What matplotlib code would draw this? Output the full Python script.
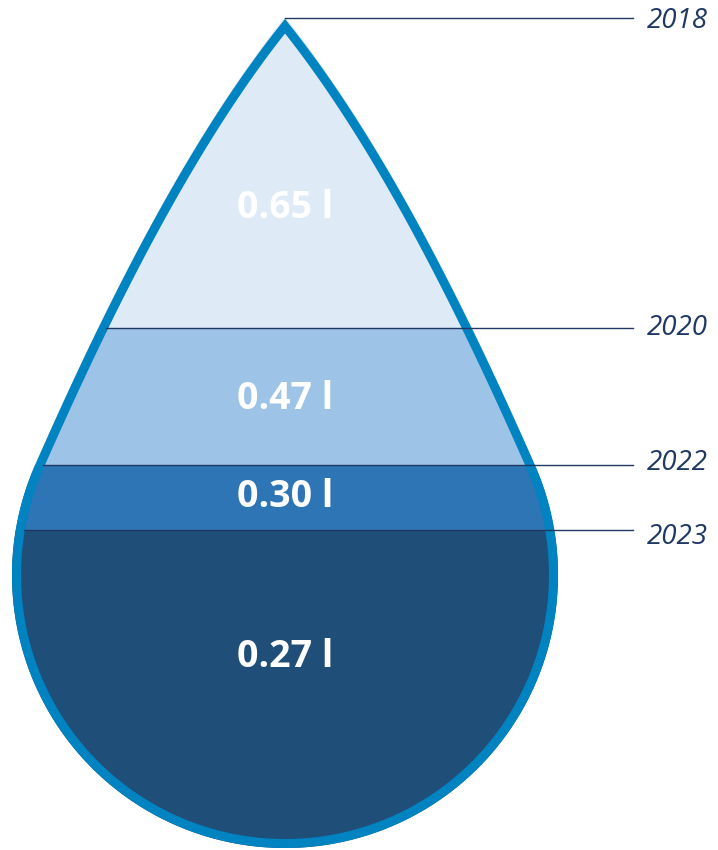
import matplotlib.pyplot as plt
import numpy as np
from matplotlib.path import Path
from matplotlib.patches import PathPatch

# data
years = ["2018", "2020", "2022", "2023"]
litres = [0.65, 0.47, 0.30, 0.27]

# layout (pixel units, y grows downwards)
band_top = [18, 328, 465, 530]
value_y = [208, 399, 497, 657]
year_dy = [3, 0, -2, 7]
band_colors = ["#deebf7", "#9dc3e6", "#2e75b6", "#1f4e79"]
outline_color = "#0083c1"
navy = "#1f3864"

cx, cy, r = 285, 575, 273
tip_y = 17


def drop_outline(n=300):
    # curved flank from the tip (bezier), tangent to the round bottom
    s_c = cy - tip_y
    theta = np.arccos(110 / r)
    p = np.array([r * np.sin(theta), s_c - r * np.cos(theta)])
    a0 = np.arctan(0.8)
    c1 = 160 * np.array([np.sin(a0), np.cos(a0)])
    c2 = p - 160 * np.array([np.cos(theta), np.sin(theta)])
    t = np.linspace(0, 1, n)[:, None]
    bez = 3 * (1 - t) ** 2 * t * c1 + 3 * (1 - t) * t ** 2 * c2 + t ** 3 * p
    left = np.column_stack([cx - bez[:, 0], tip_y + bez[:, 1]])
    phi = np.linspace(-theta, theta - 2 * np.pi, 2 * n)
    arc = np.column_stack([cx + r * np.sin(phi), cy - r * np.cos(phi)])
    right = np.column_stack([cx + bez[::-1, 0], tip_y + bez[::-1, 1]])
    return np.vstack([left, arc[1:], right[1:-1]])


def left_edge(pts, y):
    half = pts[pts[:, 0] <= cx]
    half = half[: np.argmax(half[:, 1]) + 1]
    return np.interp(y, half[:, 1], half[:, 0])


fig = plt.figure(figsize=(7.18, 8.5), dpi=100)
ax = fig.add_axes([0, 0, 1, 1])
ax.set_xlim(0, 718)
ax.set_ylim(850, 0)
ax.axis("off")

outer = drop_outline()
clip = PathPatch(Path(outer, closed=True), facecolor="none", edgecolor="none")
ax.add_patch(clip)

bottoms = band_top[1:] + [850]
for top, bot, col in zip(band_top, bottoms, band_colors):
    span = ax.axhspan(top, bot, color=col, lw=0, zorder=1)
    span.set_clip_path(clip)

# stroke along the centre of the rim
k = (r - 4.5) / r
rim = np.column_stack([cx + (outer[:, 0] - cx) * k, cy + (outer[:, 1] - cy) * k])
ax.add_patch(PathPatch(Path(rim, closed=True), facecolor="none",
                       edgecolor=outline_color, lw=6.5, joinstyle="miter", zorder=2))

# leader lines and year labels
for i, (yr, y) in enumerate(zip(years, band_top)):
    x0 = cx if i == 0 else left_edge(outer, y) + 8
    ax.plot([x0, 633], [y, y], color=navy, lw=1.0, zorder=3)
    ax.text(647, y + year_dy[i], yr, fontsize=20, style="italic", color=navy,
            family=["Open Sans", "DejaVu Sans"], ha="left", va="center")

for v, y in zip(litres, value_y):
    ax.text(cx, y, "{:.2f} l".format(v), fontsize=27, weight="bold", color="white",
            family=["Open Sans", "DejaVu Sans"], ha="center", va="center", zorder=4)

fig.savefig("out.png", dpi=100)
